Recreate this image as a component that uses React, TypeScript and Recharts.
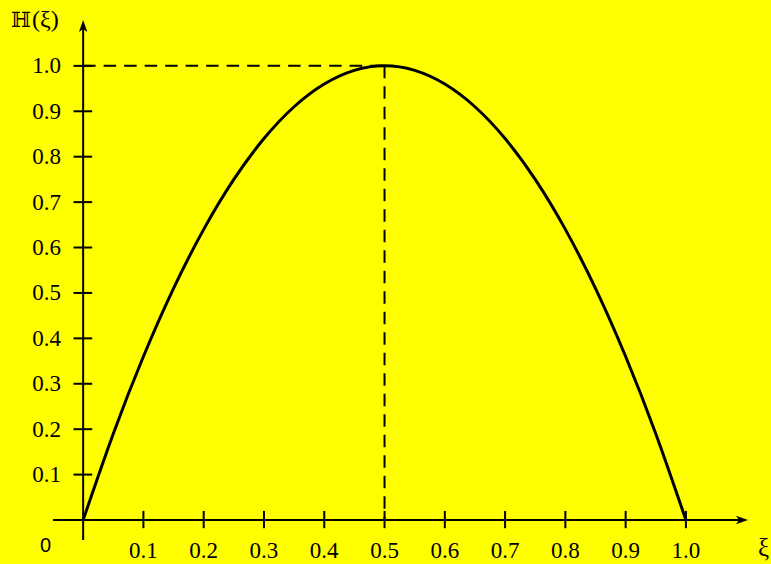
import React from "react";
import {
  LineChart,
  Line,
  XAxis,
  YAxis,
  ReferenceLine,
  ReferenceDot,
} from "recharts";

// Sampled curve H(ξ) on ξ ∈ [0, 1]
const XI = [
  0, 0.05, 0.1, 0.15, 0.2, 0.25, 0.3, 0.35, 0.4, 0.45, 0.5,
  0.55, 0.6, 0.65, 0.7, 0.75, 0.8, 0.85, 0.9, 0.95, 1.0,
];
const H = [
  0, 0.19, 0.36, 0.51, 0.64, 0.75, 0.84, 0.91, 0.96, 0.99, 1.0,
  0.99, 0.96, 0.91, 0.84, 0.75, 0.64, 0.51, 0.36, 0.19, 0,
];

const X_TICKS = [0.1, 0.2, 0.3, 0.4, 0.5, 0.6, 0.7, 0.8, 0.9, 1.0];
const Y_TICKS = [0.1, 0.2, 0.3, 0.4, 0.5, 0.6, 0.7, 0.8, 0.9, 1.0];

// Peak guide
const PEAK_X = 0.5;
const PEAK_Y = 1.0;

const X_DOMAIN: [number, number] = [-0.05, 1.103];
const Y_DOMAIN: [number, number] = [-0.044, 1.101];

const data = XI.map((xi, i) => ({ xi, h: H[i] }));

const W = 771;
const HGT = 564;
const SERIF = "'Liberation Serif', 'Times New Roman', serif";
const BG = "#ffff00";

const XTick = (props: any) => {
  const { x, y, payload } = props;
  return (
    <text
      x={x}
      y={y}
      dy={18}
      textAnchor="middle"
      fontFamily={SERIF}
      fontSize={23}
      fill="#000"
    >
      {payload.value.toFixed(1)}
    </text>
  );
};

const YTick = (props: any) => {
  const { x, y, payload } = props;
  return (
    <text
      x={x}
      y={y}
      dx={8}
      dy={7.5}
      textAnchor="end"
      fontFamily={SERIF}
      fontSize={23}
      fill="#000"
    >
      {payload.value.toFixed(1)}
    </text>
  );
};

const UpArrow = (p: any) => (
  <path
    d={`M${p.cx},${p.cy} L${p.cx - 4.2},${p.cy + 12} L${p.cx},${p.cy + 9} L${p.cx + 4.2},${p.cy + 12} Z`}
    fill="#000"
  />
);

const RightArrow = (p: any) => (
  <path
    d={`M${p.cx},${p.cy} L${p.cx - 12},${p.cy - 4.2} L${p.cx - 9},${p.cy} L${p.cx - 12},${p.cy + 4.2} Z`}
    fill="#000"
  />
);

export default function App() {
  return (
    <div
      style={{
        position: "absolute",
        left: 0,
        top: 0,
        width: W,
        height: HGT,
        background: BG,
      }}
    >
      <LineChart
        width={W}
        height={HGT}
        data={data}
        margin={{ top: 20, right: 23, bottom: 0, left: 0 }}
      >
        <XAxis
          dataKey="xi"
          type="number"
          domain={X_DOMAIN}
          allowDataOverflow
          ticks={X_TICKS}
          axisLine={false}
          tickLine={false}
          tickSize={0}
          tickMargin={0}
          height={24}
          tick={<XTick />}
          interval={0}
        />
        <YAxis
          type="number"
          domain={Y_DOMAIN}
          allowDataOverflow
          ticks={Y_TICKS}
          axisLine={false}
          tickLine={false}
          tickSize={0}
          tickMargin={0}
          width={53}
          tick={<YTick />}
          interval={0}
        />

        {/* axes through the origin */}
        <ReferenceLine
          segment={[
            { x: X_DOMAIN[0], y: 0 },
            { x: 1.09, y: 0 },
          ]}
          stroke="#000"
          strokeWidth={2}
          ifOverflow="visible"
        />
        <ReferenceLine
          segment={[
            { x: 0, y: Y_DOMAIN[0] },
            { x: 0, y: 1.085 },
          ]}
          stroke="#000"
          strokeWidth={2}
          ifOverflow="visible"
        />
        <ReferenceDot
          x={0}
          y={Y_DOMAIN[1]}
          r={0}
          ifOverflow="visible"
          shape={UpArrow}
        />
        <ReferenceDot
          x={X_DOMAIN[1]}
          y={0}
          r={0}
          ifOverflow="visible"
          shape={RightArrow}
        />

        {/* tick marks crossing the axes */}
        {X_TICKS.map((t) => (
          <ReferenceLine
            key={`xt-${t}`}
            segment={[
              { x: t, y: -0.018 },
              { x: t, y: 0.02 },
            ]}
            stroke="#000"
            strokeWidth={2}
            ifOverflow="visible"
          />
        ))}
        {Y_TICKS.map((t) => (
          <ReferenceLine
            key={`yt-${t}`}
            segment={[
              { x: -0.016, y: t },
              { x: 0.015, y: t },
            ]}
            stroke="#000"
            strokeWidth={2}
            ifOverflow="visible"
          />
        ))}

        {/* dashed guides to the maximum */}
        <ReferenceLine
          segment={[
            { x: 0, y: PEAK_Y },
            { x: PEAK_X, y: PEAK_Y },
          ]}
          stroke="#000"
          strokeWidth={2}
          strokeDasharray="12.5 8"
        />
        <ReferenceLine
          segment={[
            { x: PEAK_X, y: PEAK_Y },
            { x: PEAK_X, y: 0 },
          ]}
          stroke="#000"
          strokeWidth={2}
          strokeDasharray="12.5 8"
        />

        <Line
          dataKey="h"
          type="natural"
          stroke="#000"
          strokeWidth={3}
          dot={false}
          activeDot={false}
          isAnimationActive={false}
        />
      </LineChart>

      <svg
        width={W}
        height={HGT}
        style={{ position: "absolute", left: 0, top: 0, pointerEvents: "none" }}
      >
        <text
          x={11}
          y={27}
          fontFamily="'DejaVu Serif', serif"
          fontSize={21}
          fill="#000"
        >
          ℍ
        </text>
        <text x={32} y={27} fontFamily={SERIF} fontSize={24} fill="#000">
          (ξ)
        </text>
        <text
          x={40}
          y={552}
          fontFamily="'Liberation Sans', Arial, sans-serif"
          fontSize={20}
          fill="#000"
        >
          0
        </text>
        <text x={758} y={556} fontFamily={SERIF} fontSize={25} fill="#000">
          ξ
        </text>
      </svg>
    </div>
  );
}
